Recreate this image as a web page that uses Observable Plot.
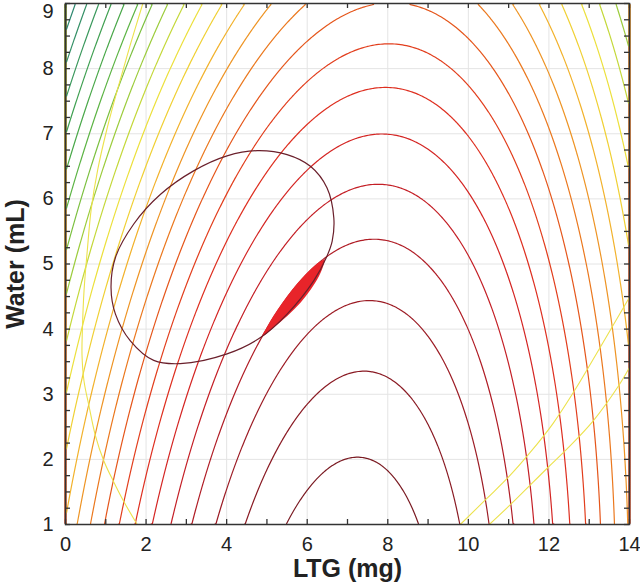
<!DOCTYPE html>
<html><head><meta charset="utf-8">
<script src="https://cdn.jsdelivr.net/npm/d3@7"></script>
<script src="https://cdn.jsdelivr.net/npm/@observablehq/plot@0.6"></script>
<style>body{margin:0;background:#fff}</style>
</head><body><div id="chart"></div>
<script>
// Axis ticks
const xTicks = [0, 2, 4, 6, 8, 10, 12, 14];
const yTicks = [1, 2, 3, 4, 5, 6, 7, 8];
const yTopTick = [9];
const xMinorTicks = [0,1,2,3,4,5,6,7,8,9,10,11,12,13,14];
const yMinorTicks = [1,1.25,1.5,1.75,2,2.25,2.5,2.75,3,3.25,3.5,3.75,4,4.25,4.5,4.75,5,5.25,5.5,5.75,6,6.25,6.5,6.75,7,7.25,7.5,7.75,8,8.25,8.5,8.75,9];
const gridY = [1, 2, 3, 4, 5, 6, 7, 8, 9];

// Fitted response surface (terms: 1, x, y, x², y², xy)
const surfaceTerms = ["1", "x", "y", "x2", "y2", "xy"];
const surfaceCoefficients = [11.066, -3.1818, 0.7761, 0.22727, 0.07221, -0.05568];

// Contour levels (innermost = 1) and their colours
const levels = [1,2,3,4,5,6,7,8,9,10,11,12,13,14,15,16,17,18,19,20,21,22,23];
const levelColors = [
  "#7a1a22","#8a1b24","#9c1c25","#b01d26","#c41f26","#d42523","#de2f20","#e23e1d",
  "#e5561b","#eb781e","#ee9424","#f2b22c","#f0d034","#ece03c","#c4d83a","#9ccc3c",
  "#7cc040","#5cb444","#4aa84a","#40a052","#3a985c","#349066","#2e8870"
];

// Overlaid constraint contours
const leftCurveX = [1.78, 1.45, 1.20, 0.95, 0.74, 0.58, 0.46, 0.41, 0.42, 0.46, 0.54, 0.64, 0.80, 1.02, 1.30, 1.60, 1.92];
const leftCurveY = [1.00, 1.35, 1.65, 1.98, 2.37, 2.83, 3.20, 3.60, 4.00, 4.59, 5.20, 5.85, 6.45, 7.05, 7.70, 8.35, 9.00];
const rightCurveAX = [9.80, 10.46, 11.00, 11.54, 12.10, 12.66, 13.30, 14.00];
const rightCurveAY = [1.00, 1.40, 1.73, 2.11, 2.55, 3.08, 3.75, 4.49];
const rightCurveBX = [10.52, 11.12, 11.95, 12.45, 13.11, 13.73, 14.00];
const rightCurveBY = [1.00, 1.35, 1.86, 2.16, 2.60, 3.13, 3.41];

// Elliptical region boundary
const ellipseX = [4.76, 5.50, 6.08, 6.49, 6.66, 6.62, 6.49, 6.16, 5.50, 4.84, 4.01, 2.85, 2.19, 1.61, 1.24, 1.13, 1.24, 1.69, 2.36, 3.18, 4.01];
const ellipseY = [6.74, 6.68, 6.50, 6.17, 5.71, 5.35, 5.12, 4.74, 4.23, 3.87, 3.62, 3.47, 3.52, 3.82, 4.23, 4.64, 5.10, 5.61, 6.07, 6.43, 6.66];

// Design space (red lens)
const lensY  = [3.85, 4.00, 4.20, 4.40, 4.60, 4.80, 5.00, 5.07];
const lensX1 = [4.85, 4.99, 5.18, 5.40, 5.64, 5.92, 6.26, 6.45];
const lensX2 = [4.85, 5.15, 5.53, 5.85, 6.10, 6.30, 6.43, 6.45];

const pts = (xs, ys) => xs.map((x, i) => ({x, y: ys[i]}));
const c = surfaceCoefficients;
const surface = (x, y) => c[0] + c[1]*x + c[2]*y + c[3]*x*x + c[4]*y*y + c[5]*x*y;

const W = 640, H = 585, mL = 65, mR = 11, mT = 3, mB = 61;
const innerW = W - mL - mR, innerH = H - mT - mB;
const tick = 5;
const ink = "#222";

const chart = Plot.plot({
  width: W, height: H,
  marginLeft: mL, marginRight: mR, marginTop: mT, marginBottom: mB,
  x: {domain: [0, 14]},
  y: {domain: [1, 9]},
  color: {type: "ordinal", domain: levels, range: levelColors},
  style: {fontFamily: "'Liberation Sans', Arial, Helvetica, sans-serif", background: "#fff", color: ink},
  marks: [
    Plot.gridX(xTicks, {stroke: "#e4e4e4", strokeOpacity: 1}),
    Plot.gridY(gridY, {stroke: "#e4e4e4", strokeOpacity: 1}),
    Plot.contour({value: surface, x1: 0, x2: 14, y1: 1, y2: 9, thresholds: levels, fill: "none", stroke: "value", strokeWidth: 1.2}),
    Plot.line(pts(leftCurveX, leftCurveY), {x: "x", y: "y", stroke: "#ece24c", strokeWidth: 1.1, curve: "catmull-rom"}),
    Plot.line(pts(rightCurveAX, rightCurveAY), {x: "x", y: "y", stroke: "#ece24c", strokeWidth: 1.1, curve: "catmull-rom"}),
    Plot.line(pts(rightCurveBX, rightCurveBY), {x: "x", y: "y", stroke: "#ece24c", strokeWidth: 1.1, curve: "catmull-rom"}),
    Plot.areaX(lensY.map((y, i) => ({y, x1: lensX1[i], x2: lensX2[i]})), {y: "y", x1: "x1", x2: "x2", fill: "#e8242a", curve: "catmull-rom"}),
    Plot.line(pts(ellipseX, ellipseY), {x: "x", y: "y", stroke: "#6a1f2b", strokeWidth: 1.2, curve: "catmull-rom-closed"}),
    Plot.frame({stroke: "#333", strokeWidth: 1.5}),
    Plot.tickX(xMinorTicks, {x: d => d, insetTop: innerH - tick, stroke: "#333", strokeWidth: 1.3}),
    Plot.tickX(xMinorTicks, {x: d => d, insetBottom: innerH - tick, stroke: "#333", strokeWidth: 1.3}),
    Plot.tickY(yMinorTicks, {y: d => d, insetRight: innerW - tick, stroke: "#333", strokeWidth: 1.3}),
    Plot.tickY(yMinorTicks, {y: d => d, insetLeft: innerW - tick, stroke: "#333", strokeWidth: 1.3}),
    Plot.axisX(xTicks, {tickSize: 0, tickPadding: 12, fontSize: 20, label: null, tickFormat: d => String(d)}),
    Plot.axisY(yTicks, {tickSize: 0, tickPadding: 12, fontSize: 20, label: null, tickFormat: d => String(d)}),
    Plot.axisY(yTopTick, {tickSize: 0, tickPadding: 12, fontSize: 20, label: null, dy: 8, tickFormat: d => String(d)}),
    Plot.text(["LTG (mg)"], {frameAnchor: "bottom", dy: 44, lineAnchor: "middle", textAnchor: "middle", fontSize: 25, fontWeight: "bold", fill: ink}),
    Plot.text(["Water (mL)"], {frameAnchor: "left", dx: -50, rotate: -90, lineAnchor: "middle", textAnchor: "middle", fontSize: 25, fontWeight: "bold", fill: ink})
  ]
});
document.getElementById("chart").append(chart);
</script>
</body></html>
